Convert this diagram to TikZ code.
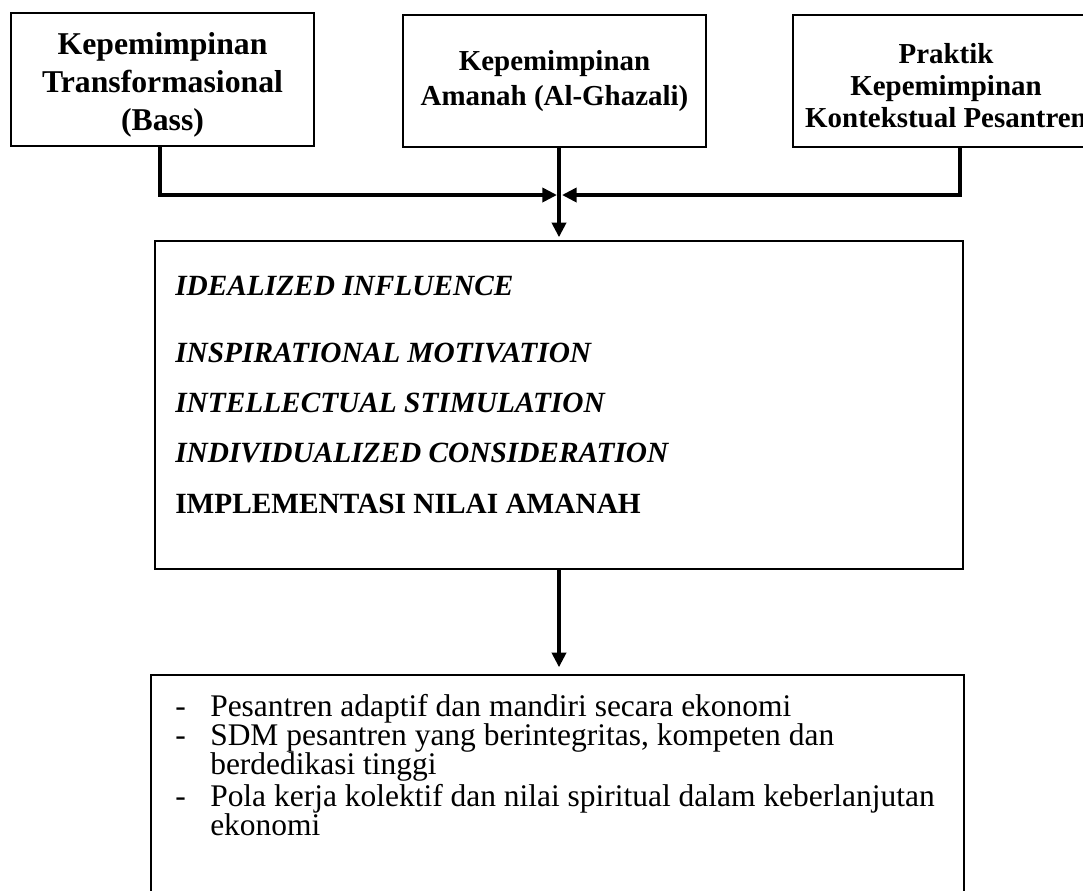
\documentclass[tikz,border=0pt]{standalone}
\usepackage{fontspec}
\setmainfont{Liberation Serif}
\usetikzlibrary{arrows.meta}

\tikzset{
  kotak/.style={draw, line width=1.1pt, inner sep=0pt},
  judul/.style={align=center, inner sep=0pt, font=\bfseries\fontsize{21.7}{26}\selectfont},
  dimensiteks/.style={anchor=base west, inner sep=0pt, font=\bfseries\itshape\fontsize{22}{26}\selectfont},
  hasilteks/.style={anchor=base west, inner sep=0pt, font=\fontsize{23.6}{28}\selectfont},
  panah/.style={line width=3pt, -{Triangle[length=11pt,width=10.5pt]}},
}

\begin{document}
\begin{tikzpicture}[x=0.75pt, y=-0.75pt]

\def \px {0.75pt}
\def \boxw {303}
\def \boxh {132}

\useasboundingbox (0,0) rectangle (1083,890);
\clip (0,0) rectangle (1083,890);

% three sources
\node [kotak, minimum width=\boxw*\px, minimum height=133*\px] (kt) at (162.5,79.5) {};
\node [judul, font=\bfseries\fontsize{23.8}{28.5}\selectfont] (ktteks) at (162.5,85) {Kepemimpinan\\Transformasional\\(Bass)};
\node [kotak, minimum width=\boxw*\px, minimum height=\boxh*\px] (ka) at (554.5,81) {};
\node [judul] (kateks) at (554.5,81) {Kepemimpinan\\Amanah (Al-Ghazali)};
\node [kotak, minimum width=306*\px, minimum height=\boxh*\px] (kp) at (946,81) {};
\node [judul, font=\bfseries\fontsize{21.7}{24}\selectfont] (kpteks) at (946,86) {Praktik\\Kepemimpinan\\Kontekstual Pesantren};

% dimensions
\node [kotak, minimum width=808*\px, minimum height=328*\px] (dimensi) at (559,405) {};
\node [dimensiteks] (ii) at (175,295) {IDEALIZED INFLUENCE};
\node [dimensiteks] (im) at (175,362) {INSPIRATIONAL MOTIVATION};
\node [dimensiteks] (is) at (175,412) {INTELLECTUAL STIMULATION};
\node [dimensiteks] (ic) at (175,462) {INDIVIDUALIZED CONSIDERATION};
\node [dimensiteks, font=\bfseries\fontsize{22}{26}\selectfont] (nilai) at (175,513) {IMPLEMENTASI NILAI AMANAH};

% outcomes
\node [kotak, minimum width=813*\px, minimum height=300*\px] (hasil) at (557.5,825) {};
\foreach \y/\n in {716/1,745/2,806/3}
  \node [hasilteks] (strip\n) at (175,\y) {-};
\node [hasilteks] (h1) at (210,716) {Pesantren adaptif dan mandiri secara ekonomi};
\node [hasilteks] (h2) at (210,745) {SDM pesantren yang berintegritas, kompeten dan};
\node [hasilteks] (h2b) at (210,774) {berdedikasi tinggi};
\node [hasilteks] (h3) at (210,806) {Pola kerja kolektif dan nilai spiritual dalam keberlanjutan};
\node [hasilteks] (h3b) at (210,835) {ekonomi};

% connectors
\coordinate (temu) at (559,195);
\draw [panah] ([xshift=-3*\px]kt.south) |- ([xshift=-2*\px]temu);
\draw [panah] ([xshift=14*\px]kp.south) |- ([xshift=3*\px]temu);
\draw [panah] (ka.south -| dimensi.north) -- ([yshift=3*\px]dimensi.north);
\draw [panah] (dimensi.south) -- ([yshift=7*\px]dimensi.south |- hasil.north);

\end{tikzpicture}
\end{document}
